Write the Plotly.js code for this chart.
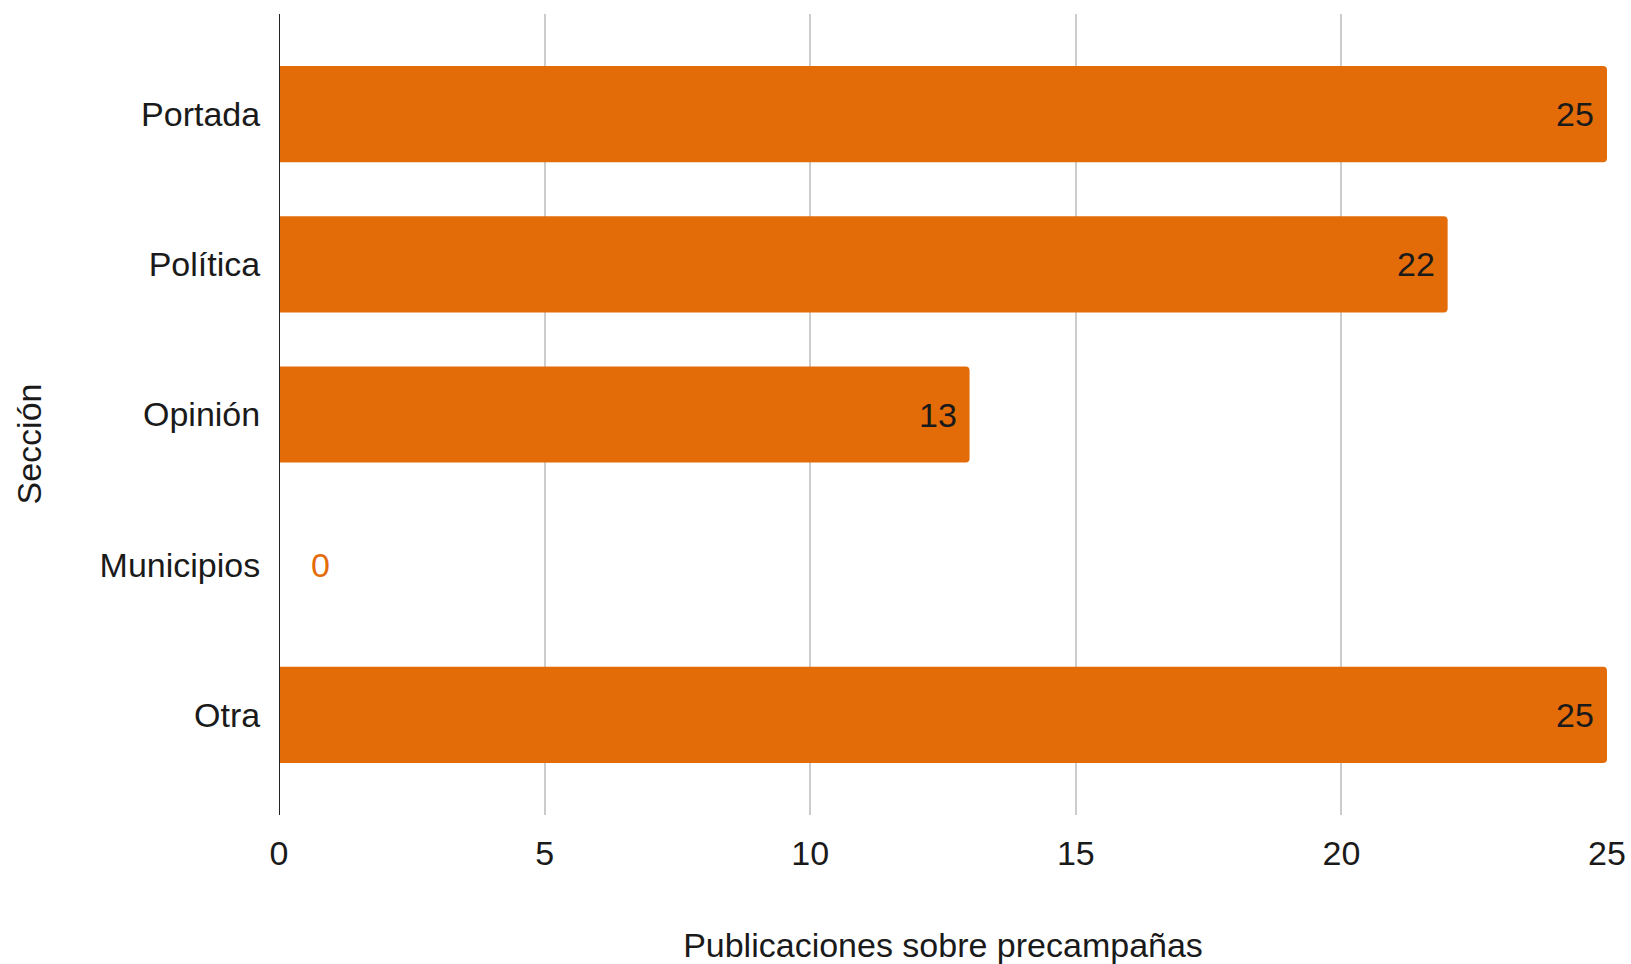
<!DOCTYPE html>
<html>
<head>
<meta charset="utf-8">
<script src="https://cdn.plot.ly/plotly-3.0.1.min.js"></script>
<style>
html,body{margin:0;padding:0;background:#fff;}
#chart{width:1631px;height:964px;}
</style>
</head>
<body>
<div id="chart"></div>
<script>
const categories = ["Portada", "Política", "Opinión", "Municipios", "Otra"];
const values = [25, 22, 13, 0, 25];
const xTickValues = [0, 5, 10, 15, 20, 25];
const xTitle = "Publicaciones sobre precampañas";
const yTitle = "Sección";

const barColor = "#e36c09";
const fontFamily = "Liberation Sans, Arial, Helvetica, sans-serif";
const fontSize = 34;
const textColor = "#1a1a1a";

const annotations = values.map((v, i) => {
  const inside = v > 0;
  return {
    x: v, y: categories[i], xref: "x", yref: "y",
    text: String(v), showarrow: false,
    xanchor: inside ? "right" : "left",
    xshift: inside ? -11 : 30,
    yanchor: "middle",
    font: {family: fontFamily, size: fontSize, color: inside ? textColor : barColor}
  };
});

// Vertical axis title, centred on the chart area including the tick labels
annotations.push({
  xref: "paper", yref: "paper",
  x: -0.188, y: 0.463,
  xanchor: "center", yanchor: "middle",
  textangle: -90,
  text: yTitle, showarrow: false,
  font: {family: fontFamily, size: fontSize, color: textColor}
});

const trace = {
  type: "bar",
  orientation: "h",
  x: values,
  y: categories,
  width: 0.64,
  marker: {color: barColor, cornerradius: 4},
  hoverinfo: "x+y"
};

const layout = {
  width: 1631, height: 964,
  margin: {l: 279, r: 24, t: 14, b: 149},
  paper_bgcolor: "#ffffff",
  plot_bgcolor: "#ffffff",
  showlegend: false,
  font: {family: fontFamily, size: fontSize, color: textColor},
  xaxis: {
    range: [0, 25],
    tickvals: xTickValues,
    ticktext: xTickValues.map(String),
    showgrid: true, gridcolor: "#cccccc", gridwidth: 2,
    zeroline: false, showline: false,
    ticks: "outside", ticklen: 8, tickcolor: "rgba(0,0,0,0)",
    tickfont: {family: fontFamily, size: fontSize, color: textColor},
    title: {text: xTitle, standoff: 62, font: {family: fontFamily, size: fontSize, color: textColor}},
    fixedrange: true
  },
  yaxis: {
    type: "category",
    categoryorder: "array", categoryarray: categories,
    range: [4.667, -0.667],
    showgrid: false, zeroline: false, showline: false,
    ticks: "outside", ticklen: 11, tickcolor: "rgba(0,0,0,0)",
    tickfont: {family: fontFamily, size: fontSize, color: textColor},
    fixedrange: true
  },
  shapes: [{
    type: "line", xref: "x", yref: "paper",
    x0: 0, x1: 0, y0: 0, y1: 1,
    line: {color: "#222222", width: 2},
    layer: "above"
  }],
  annotations: annotations
};

Plotly.newPlot("chart", [trace], layout, {displayModeBar: false, staticPlot: true});
</script>
</body>
</html>
